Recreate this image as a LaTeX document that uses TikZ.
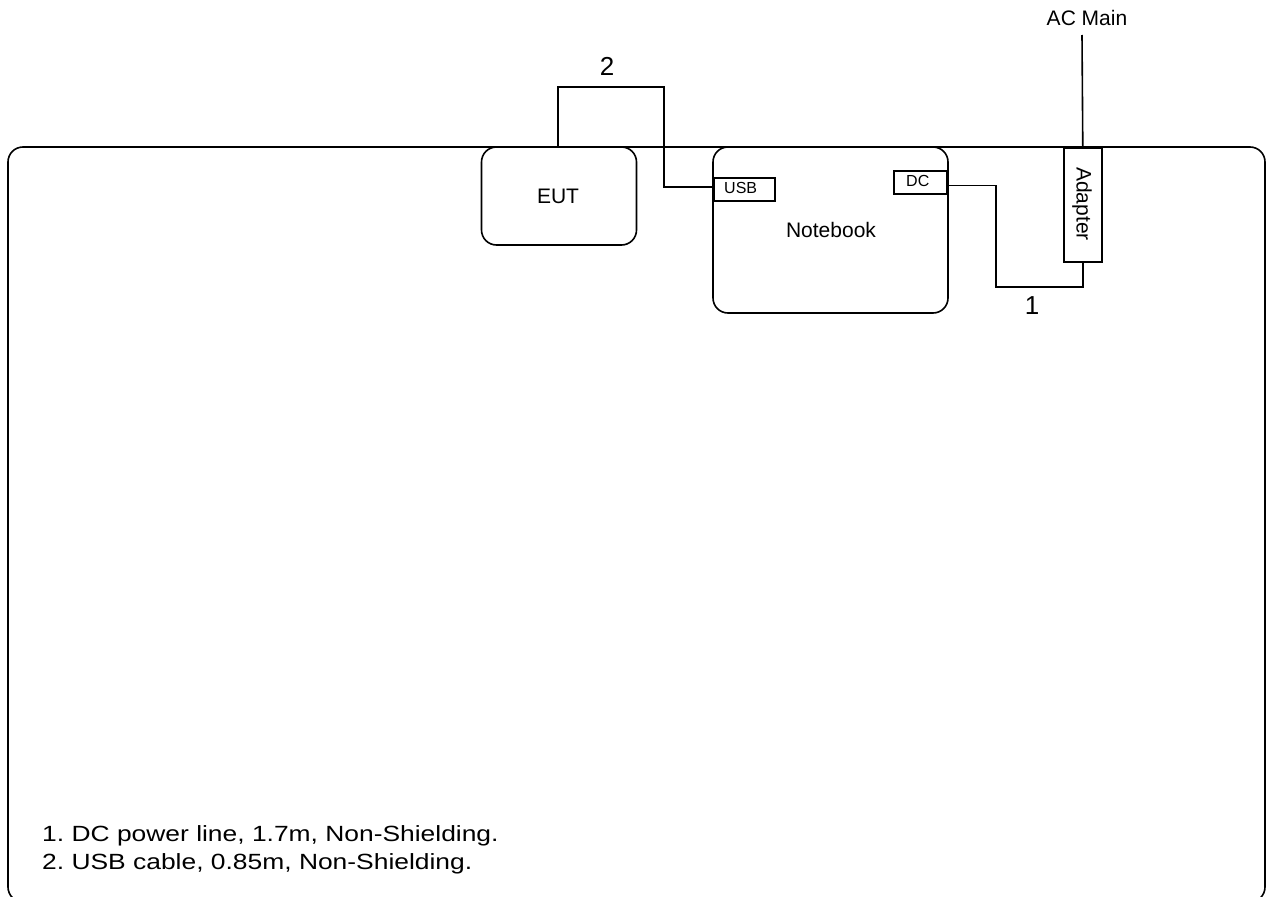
\documentclass[tikz,border=0pt]{standalone}
\usepackage{fontspec}
\setmainfont{Liberation Sans}
\frenchspacing
\begin{document}
\begin{tikzpicture}[x=1pt,y=-1pt,
  line/.style={line width=1.6pt},
  dev/.style={draw,line width=1.6pt,rounded corners=15pt,inner sep=0pt},
  port/.style={draw,line width=1.6pt,inner sep=0pt},
  txt/.style={inner sep=0pt},
  big/.style={font=\fontsize{21}{24}\selectfont},
  small/.style={font=\fontsize{16}{18}\selectfont},
  num/.style={font=\fontsize{26}{30}\selectfont},
  legend/.style={font=\fontsize{22}{26}\selectfont,xscale=1.2,anchor=base west}]
\useasboundingbox (0,0) rectangle (1270,897);
\begin{scope}
\clip (0,0) rectangle (1270,897);
\draw[line,rounded corners=15pt] (8,147) rectangle (1265,902);
\end{scope}
% devices
\node[dev,minimum width=155pt,minimum height=98pt] (eut) at (559,196) {};
\node[txt,big,anchor=base] (eutl) at (558,203) {EUT};
\node[dev,minimum width=235pt,minimum height=166pt] (nb) at (830.5,230) {};
\node[txt,big,anchor=base] (nbl) at (831,237) {Notebook};
\node[port,minimum width=61pt,minimum height=23pt,anchor=north west] (usb) at (713,177) {};
\node[txt,small,anchor=base west] (usbl) at (724,193) {USB};
\node[port,minimum width=53pt,minimum height=23pt,anchor=north east] (dc) at (948,170) {};
\node[txt,small,anchor=base west] (dcl) at (906,186) {DC};
\node[port,minimum width=38pt,minimum height=114pt,anchor=north west] (ad) at (1063,147) {};
\node[txt,big,rotate=-90] (adl) at (1082,204) {Adapter};
% AC main
\node[txt,big,anchor=base] (acl) at (1087,25) {AC Main};
\coordinate (ac) at (1082,35);
\draw[line] (ac) -- (ad.north);
% cable 2
\draw[line] (eut.north -| 558,0) -- (558,87) -- (664,87) -- (664,187) -- (usb.west |- 0,187);
\node[txt,num] (n2) at (607,66.5) {2};
% cable 1
\draw[line] (dc.east |- 0,185.5) -- (996,185.5) -- (996,287) -- (1083,287) -- (ad.south -| 1083,0);
\node[txt,num] (n1) at (1032,306) {1};
% legend
\node[txt,legend] (l1) at (42,841) {1. DC power line, 1.7m, Non-Shielding.};
\node[txt,legend] (l2) at (42,869) {2. USB cable, 0.85m, Non-Shielding.};
\end{tikzpicture}
\end{document}
